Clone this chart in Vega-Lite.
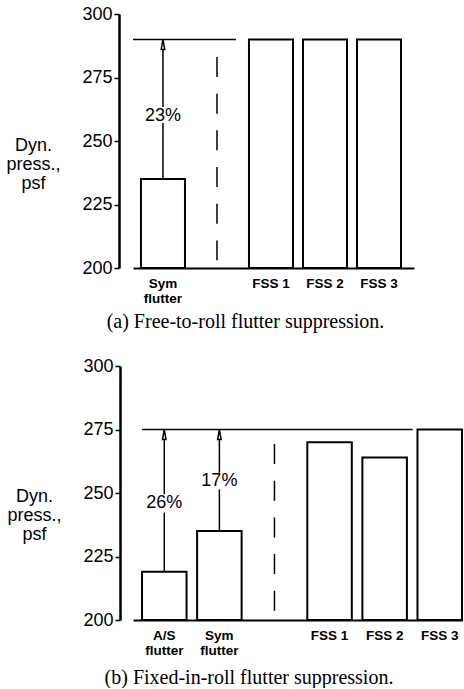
{
  "$schema": "https://vega.github.io/schema/vega-lite/v6.json",
  "background": "white",
  "padding": {"left": 5, "top": 5, "right": 0, "bottom": 0},
  "spacing": 25,
  "config": {
    "view": {"stroke": null},
    "font": "Liberation Sans",
    "axisY": {
      "tickSize": 5, "tickWidth": 1.5, "tickColor": "black",
      "domainWidth": 2.5, "domainColor": "black",
      "labelFontSize": 18, "labelColor": "black", "labelPadding": 2,
      "grid": false,
      "titleAngle": 0, "titleAlign": "center", "titleBaseline": "middle",
      "titleFontSize": 18, "titleFontWeight": "normal", "titleLineHeight": 19, "titleColor": "black"
    },
    "axisX": {
      "domainWidth": 2, "domainColor": "black", "ticks": false,
      "labelFontSize": 13.5, "labelFontWeight": "bold", "labelColor": "black",
      "labelPadding": 8, "labelLineHeight": 15, "labelAngle": 0, "labelOverlap": false,
      "title": null,
      "labelExpr": "datum.value == 'divider' ? '' : (indexof(datum.value, 'flutter') > 0 ? split(datum.value, ' ') : datum.value)"
    }
  },
  "datasets": {
    "barsA": [
      {"case": "Sym flutter", "q": 235},
      {"case": "FSS 1", "q": 290},
      {"case": "FSS 2", "q": 290},
      {"case": "FSS 3", "q": 290}
    ],
    "refA": [{"case": "Sym flutter", "case2": "divider", "q": 290}],
    "divA": [{"case": "divider", "top": 283.1, "bottom": 203.1}],
    "arrowsA": [
      {"case": "Sym flutter", "from": 235, "to": 257.1},
      {"case": "Sym flutter", "from": 263.4, "to": 290}
    ],
    "headsA": [{"case": "Sym flutter", "q": 290}],
    "labelsA": [{"case": "Sym flutter", "q": 259.8, "label": "23%"}],
    "barsB": [
      {"case": "A/S flutter", "q": 219},
      {"case": "Sym flutter", "q": 235},
      {"case": "FSS 1", "q": 270},
      {"case": "FSS 2", "q": 264},
      {"case": "FSS 3", "q": 275}
    ],
    "refB": [{"case": "A/S flutter", "case2": "FSS 3", "q": 275}],
    "divB": [{"case": "divider", "top": 269.3, "bottom": 203.5}],
    "arrowsB": [
      {"case": "A/S flutter", "from": 219, "to": 242.3},
      {"case": "A/S flutter", "from": 249.5, "to": 275},
      {"case": "Sym flutter", "from": 235, "to": 251.4},
      {"case": "Sym flutter", "from": 258, "to": 275}
    ],
    "headsB": [
      {"case": "A/S flutter", "q": 275},
      {"case": "Sym flutter", "q": 275}
    ],
    "labelsB": [
      {"case": "A/S flutter", "q": 245.9, "label": "26%"},
      {"case": "Sym flutter", "q": 254.7, "label": "17%"}
    ]
  },
  "vconcat": [
    {
      "width": 281,
      "height": 254,
      "title": {"text": "(a)  Free-to-roll flutter suppression.", "orient": "bottom", "font": "Liberation Serif", "fontSize": 20, "fontWeight": "normal", "color": "black", "dx": -28, "offset": 7},
      "layer": [
        {
          "data": {"name": "barsA"},
          "mark": {"type": "bar", "fill": "white", "stroke": "black", "strokeWidth": 2},
          "encoding": {
            "x": {"field": "case", "type": "nominal", "sort": null,
              "scale": {"domain": ["Sym flutter", "divider", "FSS 1", "FSS 2", "FSS 3"], "paddingInner": 0.185, "paddingOuter": 0.194, "align": 0.38}},
            "y": {"field": "q", "type": "quantitative",
              "scale": {"domain": [200, 300], "zero": false, "nice": false},
              "axis": {"values": [200, 225, 250, 275, 300], "offset": 14, "title": ["Dyn.", "press.,", "psf"], "titleX": -86, "titleY": 131}},
            "y2": {"datum": 200}
          }
        },
        {
          "data": {"name": "refA"},
          "mark": {"type": "rule", "stroke": "black", "strokeWidth": 1.5},
          "encoding": {
            "x": {"field": "case", "type": "nominal", "bandPosition": -0.18},
            "x2": {"field": "case2", "bandPosition": 0.93},
            "y": {"field": "q", "type": "quantitative"}
          }
        },
        {
          "data": {"name": "divA"},
          "mark": {"type": "rule", "stroke": "black", "strokeWidth": 1.5, "strokeDash": [20, 16.7]},
          "encoding": {
            "x": {"field": "case", "type": "nominal"},
            "y": {"field": "top", "type": "quantitative"},
            "y2": {"field": "bottom"}
          }
        },
        {
          "data": {"name": "arrowsA"},
          "mark": {"type": "rule", "stroke": "black", "strokeWidth": 1.5},
          "encoding": {
            "x": {"field": "case", "type": "nominal"},
            "y": {"field": "from", "type": "quantitative"},
            "y2": {"field": "to"}
          }
        },
        {
          "data": {"name": "headsA"},
          "mark": {"type": "point", "shape": "M0,-1L-0.35,1L0.35,1Z", "size": 100, "filled": true, "fill": "white", "stroke": "black", "strokeWidth": 1.5, "opacity": 1, "yOffset": 5},
          "encoding": {
            "x": {"field": "case", "type": "nominal"},
            "y": {"field": "q", "type": "quantitative"}
          }
        },
        {
          "data": {"name": "labelsA"},
          "mark": {"type": "text", "fontSize": 18, "color": "black", "baseline": "middle"},
          "encoding": {
            "x": {"field": "case", "type": "nominal"},
            "y": {"field": "q", "type": "quantitative"},
            "text": {"field": "label"}
          }
        }
      ]
    },
    {
      "width": 330,
      "height": 254,
      "title": {"text": "(b)  Fixed-in-roll flutter suppression.", "orient": "bottom", "font": "Liberation Serif", "fontSize": 20, "fontWeight": "normal", "color": "black", "dx": -49, "offset": 11},
      "layer": [
        {
          "data": {"name": "barsB"},
          "mark": {"type": "bar", "fill": "white", "stroke": "black", "strokeWidth": 2},
          "encoding": {
            "x": {"field": "case", "type": "nominal", "sort": null,
              "scale": {"domain": ["A/S flutter", "Sym flutter", "divider", "FSS 1", "FSS 2", "FSS 3"], "paddingInner": 0.192, "paddingOuter": 0.091, "align": 0.9}},
            "y": {"field": "q", "type": "quantitative",
              "scale": {"domain": [200, 300], "zero": false, "nice": false},
              "axis": {"values": [200, 225, 250, 275, 300], "offset": 13, "title": ["Dyn.", "press.,", "psf"], "titleX": -86, "titleY": 130}},
            "y2": {"datum": 200}
          }
        },
        {
          "data": {"name": "refB"},
          "mark": {"type": "rule", "stroke": "black", "strokeWidth": 1.5},
          "encoding": {
            "x": {"field": "case", "type": "nominal", "bandPosition": 0},
            "x2": {"field": "case2", "bandPosition": -0.11},
            "y": {"field": "q", "type": "quantitative"}
          }
        },
        {
          "data": {"name": "divB"},
          "mark": {"type": "rule", "stroke": "black", "strokeWidth": 1.5, "strokeDash": [20, 16.7]},
          "encoding": {
            "x": {"field": "case", "type": "nominal"},
            "y": {"field": "top", "type": "quantitative"},
            "y2": {"field": "bottom"}
          }
        },
        {
          "data": {"name": "arrowsB"},
          "mark": {"type": "rule", "stroke": "black", "strokeWidth": 1.5},
          "encoding": {
            "x": {"field": "case", "type": "nominal"},
            "y": {"field": "from", "type": "quantitative"},
            "y2": {"field": "to"}
          }
        },
        {
          "data": {"name": "headsB"},
          "mark": {"type": "point", "shape": "M0,-1L-0.35,1L0.35,1Z", "size": 100, "filled": true, "fill": "white", "stroke": "black", "strokeWidth": 1.5, "opacity": 1, "yOffset": 5},
          "encoding": {
            "x": {"field": "case", "type": "nominal"},
            "y": {"field": "q", "type": "quantitative"}
          }
        },
        {
          "data": {"name": "labelsB"},
          "mark": {"type": "text", "fontSize": 18, "color": "black", "baseline": "middle"},
          "encoding": {
            "x": {"field": "case", "type": "nominal"},
            "y": {"field": "q", "type": "quantitative"},
            "text": {"field": "label"}
          }
        }
      ]
    }
  ]
}
